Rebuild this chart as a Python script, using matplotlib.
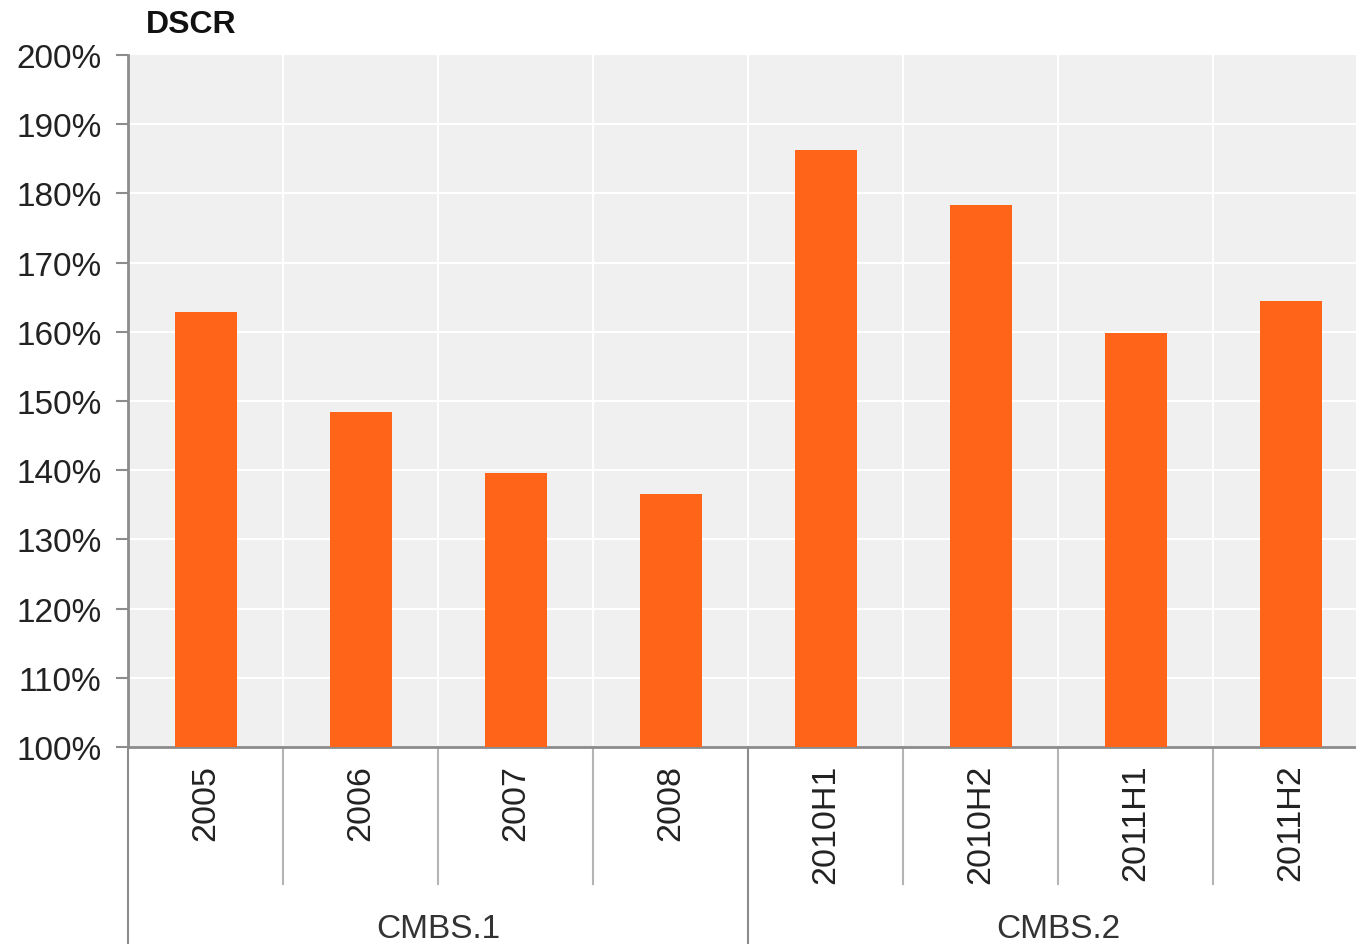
import matplotlib.pyplot as plt
import matplotlib.transforms as mtransforms

plt.rcParams['font.family'] = ['Liberation Sans', 'DejaVu Sans']

periods = ['2005', '2006', '2007', '2008', '2010H1', '2010H2', '2011H1', '2011H2']
dscr = [162.9, 148.4, 139.6, 136.6, 186.3, 178.3, 159.8, 164.5]
groups = ['CMBS.1', 'CMBS.2']
group_sizes = [4, 4]

bar_color = '#FF6418'
axis_gray = '#8c8c8c'
sep_gray = '#b4b4b4'

fig = plt.figure(figsize=(13.56, 9.45), dpi=100)
ax = fig.add_axes([128 / 1356, 197 / 945, 1240 / 1356, 692 / 945])
ax.set_facecolor('#f0f0f0')

x = list(range(len(periods)))
ax.bar(x, dscr, width=0.4, color=bar_color, zorder=3)

ax.set_xlim(-0.5, len(periods) - 0.5)
ax.set_ylim(100, 200)
ax.set_yticks(range(100, 201, 10))
ax.set_yticklabels([f'{v}%' for v in range(100, 201, 10)], fontsize=24, color='#222222')
ax.tick_params(axis='y', length=9, width=1.5, color=axis_gray, pad=10)

# white grid: horizontal at each 10%, vertical between categories
for v in range(110, 200, 10):
    ax.axhline(v, color='white', lw=1.5, zorder=1)
for b in range(1, len(periods)):
    ax.axvline(b - 0.5, color='white', lw=1.5, zorder=1)

ax.set_xticks(x)
ax.set_xticklabels(periods, rotation=90, va='top', fontsize=24.5, color='#222222')
ax.tick_params(axis='x', length=0, pad=12)

for side in ['top', 'right']:
    ax.spines[side].set_visible(False)
for side in ['left', 'bottom']:
    ax.spines[side].set_color(axis_gray)
    ax.spines[side].set_linewidth(2)

# category separators and group labels under the axis
trans = mtransforms.blended_transform_factory(ax.transData, ax.transAxes)
start = 0
group_edges = {-0.5}
for name, n in zip(groups, group_sizes):
    group_edges.add(start + n - 0.5)
    ax.text(start + (n - 1) / 2, -0.262, name, transform=trans, ha='center',
            va='center', fontsize=24, color='#333333')
    start += n
for b in range(len(periods)):
    edge = b - 0.5
    if edge in group_edges:
        ax.plot([edge, edge], [0, -0.3], transform=trans, color=axis_gray,
                lw=1.5, clip_on=False)
    else:
        ax.plot([edge, edge], [0, -0.198], transform=trans, color=sep_gray,
                lw=1.5, clip_on=False)

fig.text(146 / 1356, 1 - 25 / 945, 'DSCR', fontsize=23, fontweight='bold',
         color='#111111', va='center', ha='left')

fig.savefig('out.png', dpi=100)
